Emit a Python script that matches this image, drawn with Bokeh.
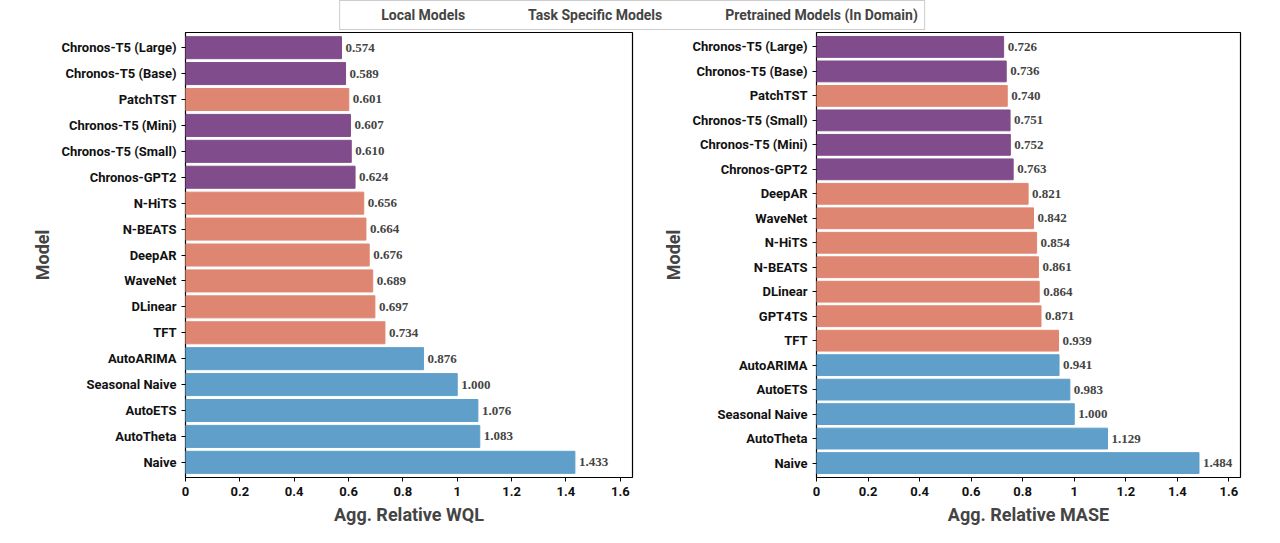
from bokeh.plotting import figure
from bokeh.layouts import column, row
from bokeh.models import ColumnDataSource, Legend, LegendItem, FactorRange
from bokeh.embed import file_html
from bokeh.resources import INLINE

COL = {"Local": "#5f9fca", "Task": "#df8672", "Pre": "#804c8b"}

wql_models = ["Chronos-T5 (Large)", "Chronos-T5 (Base)", "PatchTST", "Chronos-T5 (Mini)", "Chronos-T5 (Small)",
              "Chronos-GPT2", "N-HiTS", "N-BEATS", "DeepAR", "WaveNet", "DLinear", "TFT", "AutoARIMA",
              "Seasonal Naive", "AutoETS", "AutoTheta", "Naive"]
wql_values = [0.574, 0.589, 0.601, 0.607, 0.610, 0.624, 0.656, 0.664, 0.676, 0.689, 0.697, 0.734, 0.876,
              1.000, 1.076, 1.083, 1.433]
wql_groups = ["Pre", "Pre", "Task", "Pre", "Pre", "Pre", "Task", "Task", "Task", "Task", "Task", "Task",
              "Local", "Local", "Local", "Local", "Local"]

mase_models = ["Chronos-T5 (Large)", "Chronos-T5 (Base)", "PatchTST", "Chronos-T5 (Small)", "Chronos-T5 (Mini)",
               "Chronos-GPT2", "DeepAR", "WaveNet", "N-HiTS", "N-BEATS", "DLinear", "GPT4TS", "TFT",
               "AutoARIMA", "AutoETS", "Seasonal Naive", "AutoTheta", "Naive"]
mase_values = [0.726, 0.736, 0.740, 0.751, 0.752, 0.763, 0.821, 0.842, 0.854, 0.861, 0.864, 0.871, 0.939,
               0.941, 0.983, 1.000, 1.129, 1.484]
mase_groups = ["Pre", "Pre", "Task", "Pre", "Pre", "Pre", "Task", "Task", "Task", "Task", "Task", "Task", "Task",
               "Local", "Local", "Local", "Local", "Local"]

x_ticks = [0.0, 0.2, 0.4, 0.6, 0.8, 1.0, 1.2, 1.4, 1.6]
FONT = "Roboto"


def make(models, values, groups, xlabel, width, bl, br):
    src = ColumnDataSource(dict(m=models, v=values, c=[COL[g] for g in groups],
                                t=[f"{v:.3f}" for v in values]))
    p = figure(width=width, height=497, y_range=FactorRange(*reversed(models), range_padding=0.01),
               x_range=(0, 1.645), output_backend="svg", toolbar_location=None,
               min_border_left=bl, min_border_right=br, min_border_top=2, min_border_bottom=50)
    p.hbar(y="m", right="v", height=0.85, color="c", source=src)
    p.text(x="v", y="m", text="t", source=src, x_offset=4, text_baseline="middle",
           text_font_size="13px", text_font_style="bold", text_color="#444444", text_font=FONT)
    p.xgrid.visible = False
    p.ygrid.visible = False
    p.outline_line_color = "black"
    p.outline_line_width = 1.2
    p.xaxis.ticker = x_ticks
    p.xaxis.axis_label = xlabel
    p.yaxis.axis_label = "Model"
    for ax in (p.xaxis, p.yaxis):
        ax.axis_label_text_font = FONT
        ax.axis_label_text_font_style = "bold"
        ax.axis_label_text_font_size = "18px"
        ax.major_label_text_font = FONT
        ax.major_label_text_font_style = "bold"
        ax.major_label_text_font_size = "13px"
        ax.major_label_text_color = "#111111"
        ax.axis_line_color = None
        ax.minor_tick_line_color = None
        ax.major_tick_in = 0
        ax.major_tick_out = 4
    return p


p1 = make(wql_models, wql_values, wql_groups, "Agg. Relative WQL", 660, 185, 28)
p2 = make(mase_models, mase_values, mase_groups, "Agg. Relative MASE", 604, 151, 24)

lg = figure(width=1264, height=30, output_backend="svg", toolbar_location=None,
            x_range=(0, 1), y_range=(0, 1), min_border=0)
lg.axis.visible = False
lg.grid.visible = False
lg.outline_line_color = None
items = []
for name, key in [("Local Models", "Local"), ("Task Specific Models", "Task"), ("Pretrained Models (In Domain)", "Pre")]:
    r = lg.vbar(x=[], top=[], width=0.1, color=COL[key])
    items.append(LegendItem(label=name, renderers=[r]))
leg = Legend(items=items, orientation="horizontal", location="center",
             label_text_font=FONT, label_text_font_style="bold", label_text_font_size="14px",
             glyph_width=30, glyph_height=11, spacing=28, padding=6, margin=0,
             border_line_color="#cccccc", border_line_alpha=1)
lg.add_layout(leg, "center")

layout = column(lg, row(p1, p2))
open("out.html", "w").write(file_html(layout, INLINE))
